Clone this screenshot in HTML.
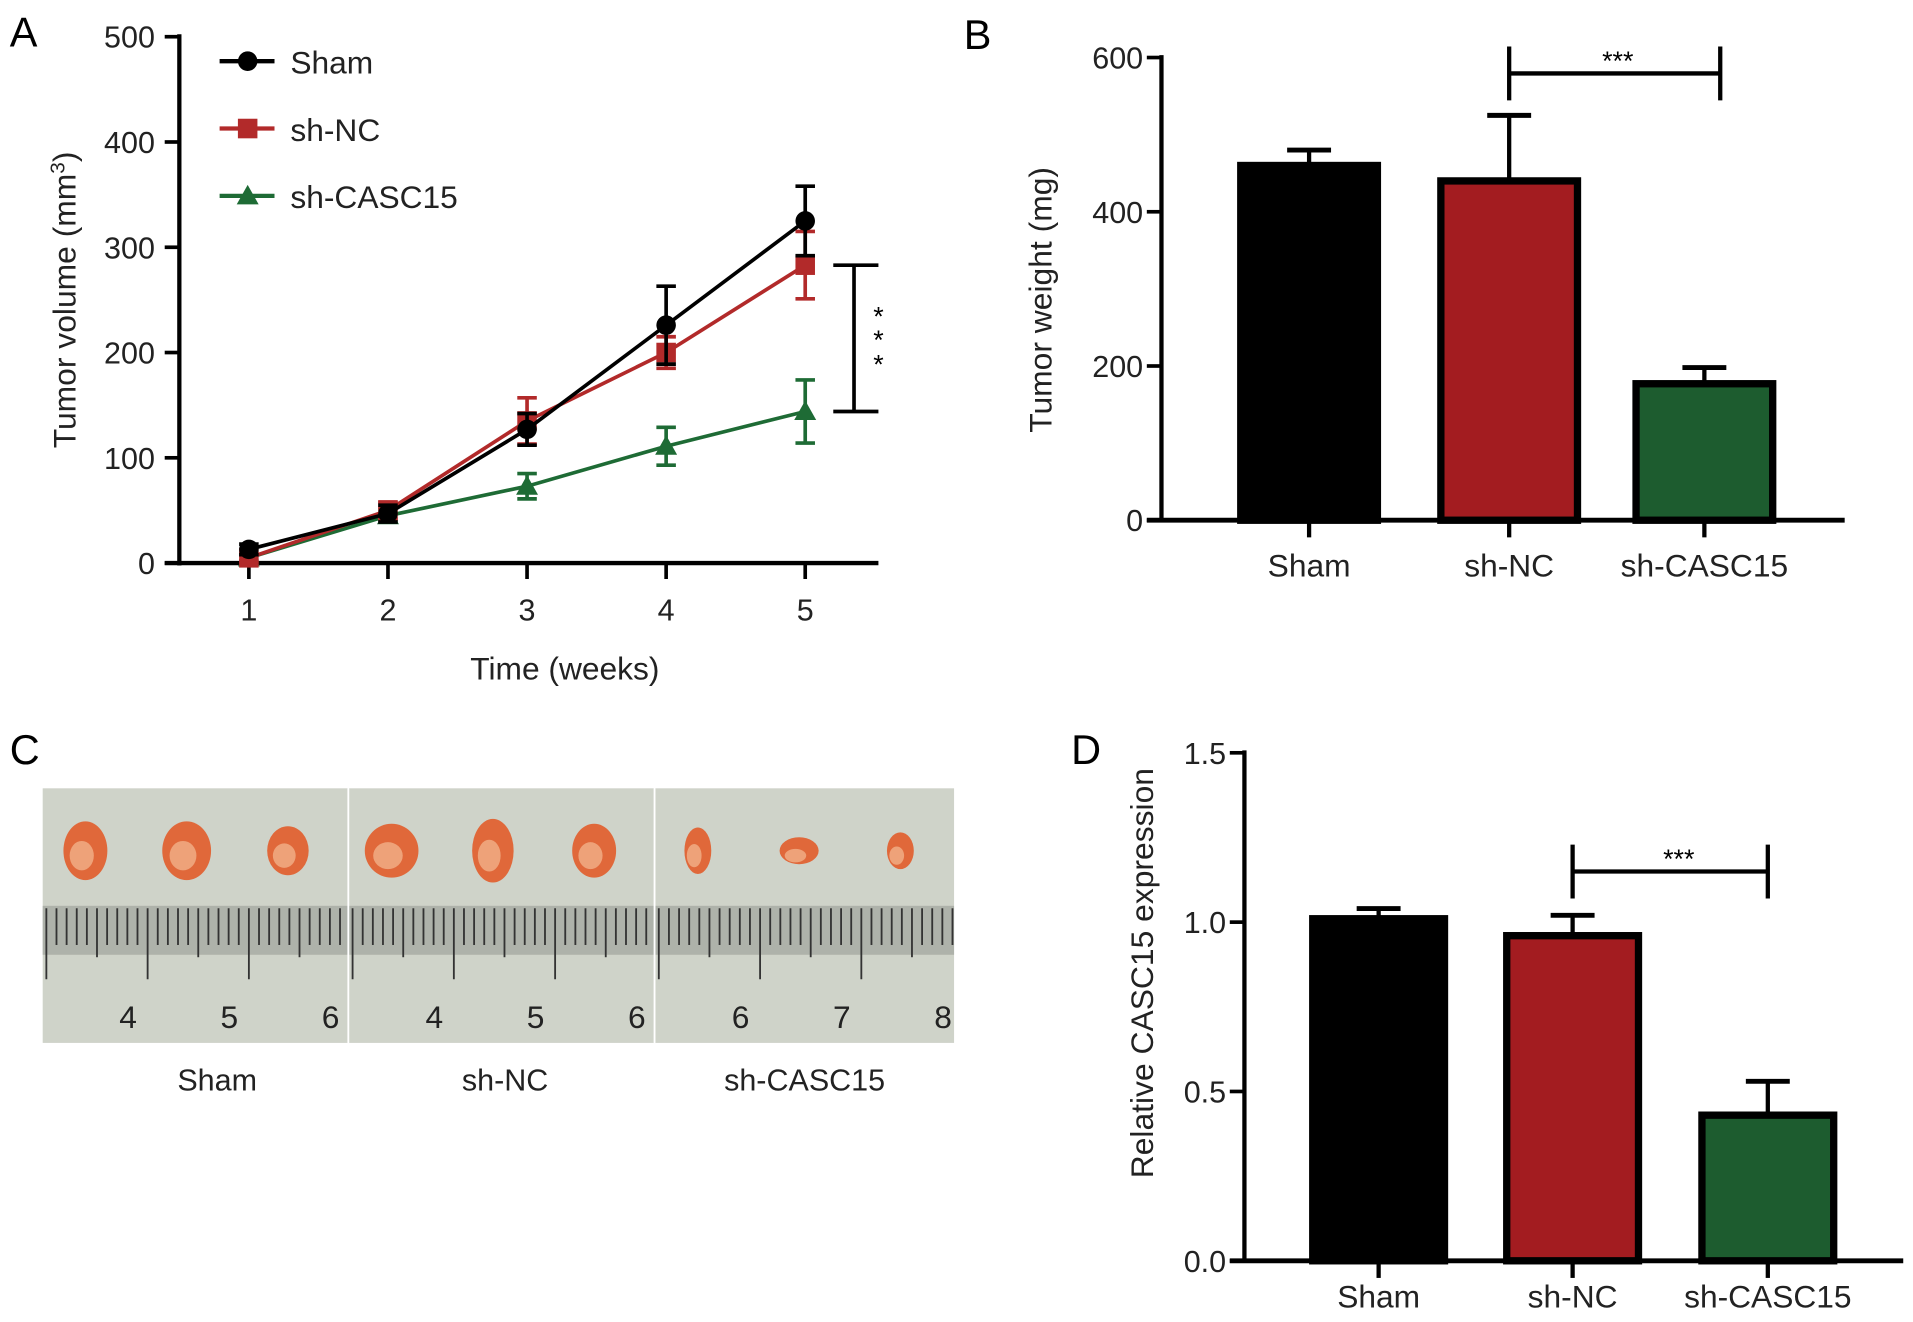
<!DOCTYPE html>
<html><head><meta charset="utf-8"><style>
html,body{margin:0;padding:0;background:#fff;}
svg{display:block;font-family:"Liberation Sans",Arial,sans-serif;}
</style></head><body>
<svg id="fig" width="1913" height="1322" viewBox="0 0 1568 1080" preserveAspectRatio="none" xmlns="http://www.w3.org/2000/svg">
<g id="A"></g>
<g id="B"></g>
<g id="C"></g>
<g id="D"></g>
</svg>
<script>
// ---- Panel A data ----
const weeks = [1,2,3,4,5];
const shamVol = [13,47,127,226,325];
const shamErr = [5,8,15,37,33];
const ncVol = [5,50,135,200,283];
const ncErr = [4,8,22,15,32];
const casVol = [5,45,73,111,144];
const casErr = [3,6,12,18,30];
const aYTicks = [0,100,200,300,400,500];
// ---- Panel B data ----
const groups = ["Sham","sh-NC","sh-CASC15"];
const weightVals = [460,440,177];
const weightErr = [20,85,21];
const bYTicks = [0,200,400,600];
// ---- Panel D data ----
const exprVals = [1.01,0.96,0.43];
const exprErr = [0.03,0.06,0.10];
const dYTicks = ["0.0","0.5","1.0","1.5"];

const NS="http://www.w3.org/2000/svg";
function mk(parent,tag,attrs,text){const e=document.createElementNS(NS,tag);for(const k in attrs)e.setAttribute(k,attrs[k]);if(text!==undefined)e.textContent=text;parent.appendChild(e);return e;}

// ===== Panel A =====
const A=document.getElementById('A');
const ax=w=>204+(w-1)*114, ay=v=>460-v*0.86;
let t=mk(A,'text',{x:8,y:38,'font-size':34},'A');


let l=mk(A,'line',{x1:147,y1:28,x2:147,y2:462,stroke:'#000','stroke-width':3.5});


l=mk(A,'line',{x1:135,y1:460,x2:720,y2:460,stroke:'#000','stroke-width':3.5});


aYTicks.forEach(v=>{
  mk(A,'line',{x1:135,y1:ay(v),x2:147,y2:ay(v),stroke:'#000','stroke-width':3});
  t=mk(A,'text',{x:127,y:ay(v)+9,'font-size':25,'text-anchor':'end',fill:'#222'},v);
  
  
});
weeks.forEach(w=>{
  mk(A,'line',{x1:ax(w),y1:460,x2:ax(w),y2:473,stroke:'#000','stroke-width':3});
  t=mk(A,'text',{x:ax(w),y:507,'font-size':25,'text-anchor':'middle',fill:'#222'},w);
  
  
});
t=mk(A,'text',{x:463,y:555,'font-size':26,'text-anchor':'middle',fill:'#222'},'Time (weeks)');


t=mk(A,'text',{x:0,y:0,'font-size':26,'text-anchor':'middle',fill:'#222',transform:'translate(62,245) rotate(-90)'});
t.innerHTML='Tumor volume (mm<tspan dy="-9" font-size="17">3</tspan><tspan dy="9">)</tspan>';


function marker(g,type,x,y,c){
  if(type==='circle')return mk(g,'circle',{cx:x,cy:y,r:8,fill:c});
  if(type==='square')return mk(g,'rect',{x:x-8,y:y-8,width:16,height:16,fill:c});
  return mk(g,'polygon',{points:`${x},${y-9} ${x-9},${y+7} ${x+9},${y+7}`,fill:c});
}
const series=[
 {name:'sh-CASC15',vals:casVol,err:casErr,c:'#1e6b35',m:'tri'},
 {name:'sh-NC',vals:ncVol,err:ncErr,c:'#b22a2a',m:'square'},
 {name:'Sham',vals:shamVol,err:shamErr,c:'#000',m:'circle'}];
series.forEach(s=>{
  const g=mk(A,'g',{});
  
  
  mk(g,'polyline',{points:s.vals.map((v,i)=>ax(weeks[i])+','+ay(v)).join(' '),fill:'none',stroke:s.c,'stroke-width':3});
  s.vals.forEach((v,i)=>{
    const x=ax(weeks[i]);
    mk(g,'line',{x1:x,y1:ay(v-s.err[i]),x2:x,y2:ay(v+s.err[i]),stroke:s.c,'stroke-width':3});
    [v-s.err[i],v+s.err[i]].forEach(e=>mk(g,'line',{x1:x-8,y1:ay(e),x2:x+8,y2:ay(e),stroke:s.c,'stroke-width':3}));
    const p=marker(g,s.m,x,ay(v),s.c);
    
    
  });
});
const leg=[['Sham','#000','circle',50],['sh-NC','#b22a2a','square',105],['sh-CASC15','#1e6b35','tri',160]];
leg.forEach(L=>{
  const g=mk(A,'g',{});
  
  
  mk(g,'line',{x1:180,y1:L[3],x2:225,y2:L[3],stroke:L[1],'stroke-width':3.5});
  marker(g,L[2],203,L[3],L[1]);
  mk(g,'text',{x:238,y:L[3]+10,'font-size':26,fill:'#222'},L[0]);
});
const br=mk(A,'g',{});


mk(br,'line',{x1:700,y1:ay(283),x2:700,y2:ay(144),stroke:'#000','stroke-width':3});
mk(br,'line',{x1:683,y1:ay(283),x2:720,y2:ay(283),stroke:'#000','stroke-width':3});
mk(br,'line',{x1:683,y1:ay(144),x2:720,y2:ay(144),stroke:'#000','stroke-width':3});
[266,285,305].forEach(y=>mk(br,'text',{x:720,y:y,'font-size':22,'text-anchor':'middle'},'*'));

// ===== Bar chart helper =====
function barChart(G,cfg){
  const yS=v=>cfg.y0-(v-cfg.vmin)/(cfg.vmax-cfg.vmin)*(cfg.y0-cfg.yTop);
  let t=mk(G,'text',{x:cfg.lx,y:cfg.ly,'font-size':34},cfg.letter);
  
  
  const colors=['#000','#a31c20','#1d5c2f'];
  groups.forEach((gname,i)=>{
    const cx=cfg.cx[i],v=cfg.vals[i],e=cfg.err[i],top=yS(v);
    const r=mk(G,'rect',{x:cx-cfg.bw/2+3,y:top,width:cfg.bw-6,height:cfg.y0-top,fill:colors[i],stroke:'#000','stroke-width':6});
    
    
    mk(G,'line',{x1:cx,y1:top,x2:cx,y2:yS(v+e),stroke:'#000','stroke-width':3.5});
    const eb=mk(G,'line',{x1:cx-18,y1:yS(v+e),x2:cx+18,y2:yS(v+e),stroke:'#000','stroke-width':4});
    
    
    mk(G,'line',{x1:cx,y1:cfg.y0,x2:cx,y2:cfg.y0+14,stroke:'#000','stroke-width':3.5});
    t=mk(G,'text',{x:cx,y:cfg.y0+cfg.lblOff,'font-size':26,'text-anchor':'middle',fill:'#222'},gname);
    
    
  });
  let a=mk(G,'line',{x1:cfg.ax,y1:cfg.yTop-2,x2:cfg.ax,y2:cfg.y0,stroke:'#000','stroke-width':3.5});
  
  
  a=mk(G,'line',{x1:cfg.ax-12,y1:cfg.y0,x2:cfg.xEnd,y2:cfg.y0,stroke:'#000','stroke-width':4});
  
  
  cfg.ticks.forEach(tk=>{
    const y=yS(parseFloat(tk));
    mk(G,'line',{x1:cfg.ax-12,y1:y,x2:cfg.ax,y2:y,stroke:'#000','stroke-width':3});
    t=mk(G,'text',{x:cfg.ax-15,y:y+9,'font-size':25,'text-anchor':'end',fill:'#222'},tk);
    
    
  });
  t=mk(G,'text',{x:0,y:0,'font-size':26,'text-anchor':'middle',fill:'#222',transform:`translate(${cfg.tx},${cfg.ty}) rotate(-90)`},cfg.title);
  
  
  const b=mk(G,'g',{});
  
  
  const x1=cfg.cx[1],x2=cfg.bx2;
  mk(b,'line',{x1:x1,y1:cfg.sy,x2:x2,y2:cfg.sy,stroke:'#000','stroke-width':3.5});
  mk(b,'line',{x1:x1,y1:cfg.sy-22,x2:x1,y2:cfg.sy+22,stroke:'#000','stroke-width':3.5});
  mk(b,'line',{x1:x2,y1:cfg.sy-22,x2:x2,y2:cfg.sy+22,stroke:'#000','stroke-width':3.5});
  mk(b,'text',{x:cfg.starX,y:cfg.sy-3,'font-size':22,'text-anchor':'middle'},'***');
}
barChart(document.getElementById('B'),{letter:'B',lx:790,ly:40,vals:weightVals,err:weightErr,vmin:0,vmax:600,y0:425,yTop:47,ax:952,xEnd:1512,cx:[1073,1237,1397],bw:118,ticks:bYTicks.map(String),title:'Tumor weight (mg)',tx:862,ty:245,sy:60,bx2:1410,starX:1326,lblOff:46});
barChart(document.getElementById('D'),{letter:'D',lx:878,ly:624,vals:exprVals,err:exprErr,vmin:0,vmax:1.5,y0:1030,yTop:615,ax:1020,xEnd:1560,cx:[1130,1289,1449],bw:114,ticks:dYTicks,title:'Relative CASC15 expression',tx:945,ty:795,sy:712,bx2:1449,starX:1376,lblOff:38});

// ===== Panel C =====
const C=document.getElementById('C');
t=mk(C,'text',{x:8,y:624,'font-size':34},'C');


const photoLabels=["Sham","sh-NC","sh-CASC15"];
const panelX=[35,286,537], panelW=[250,250,245];
const rulerNums=[["4","5","6"],["4","5","6"],["6","7","8"]];
const tumorSizes=[[[18,24],[20,24],[17,20]],[[22,22],[17,26],[18,22]],[[11,19],[16,11],[11,15]]];
panelX.forEach((px,i)=>{
  const g=mk(C,'g',{});
  
  
  mk(g,'rect',{x:px,y:644,width:panelW[i],height:208,fill:'#cfd3c9'});
  mk(g,'rect',{x:px,y:740,width:panelW[i],height:40,fill:'#aeb2aa'});
  for(let k=0;k<panelW[i]/8.3;k++){const x=px+3+k*8.3;mk(g,'line',{x1:x,y1:742,x2:x,y2:(k%5===0)?(k%10===0?800:782):772,stroke:'#333','stroke-width':1.5});}
  [0,1,2].forEach(j=>{
    const tx=px+35+j*83;
    const s=tumorSizes[i][j];
    mk(g,'ellipse',{cx:tx,cy:695,rx:s[0],ry:s[1],fill:'#e0683a'});
    mk(g,'ellipse',{cx:tx-3,cy:699,rx:s[0]*0.55,ry:s[1]*0.5,fill:'#f1b08a',opacity:0.8});
    mk(g,'text',{x:px+70+j*83,y:840,'font-size':26,'text-anchor':'middle',fill:'#222'},rulerNums[i][j]);
  });
  t=mk(C,'text',{x:px+panelW[i]/2+(i===0?18:i===1?3:0),y:891,'font-size':25,'text-anchor':'middle',fill:'#222'},photoLabels[i]);
  
  
});
mk(C,'line',{x1:285.5,y1:644,x2:285.5,y2:852,stroke:'#fff','stroke-width':1.5});
mk(C,'line',{x1:536.5,y1:644,x2:536.5,y2:852,stroke:'#fff','stroke-width':1.5});
</script>
</body></html>
